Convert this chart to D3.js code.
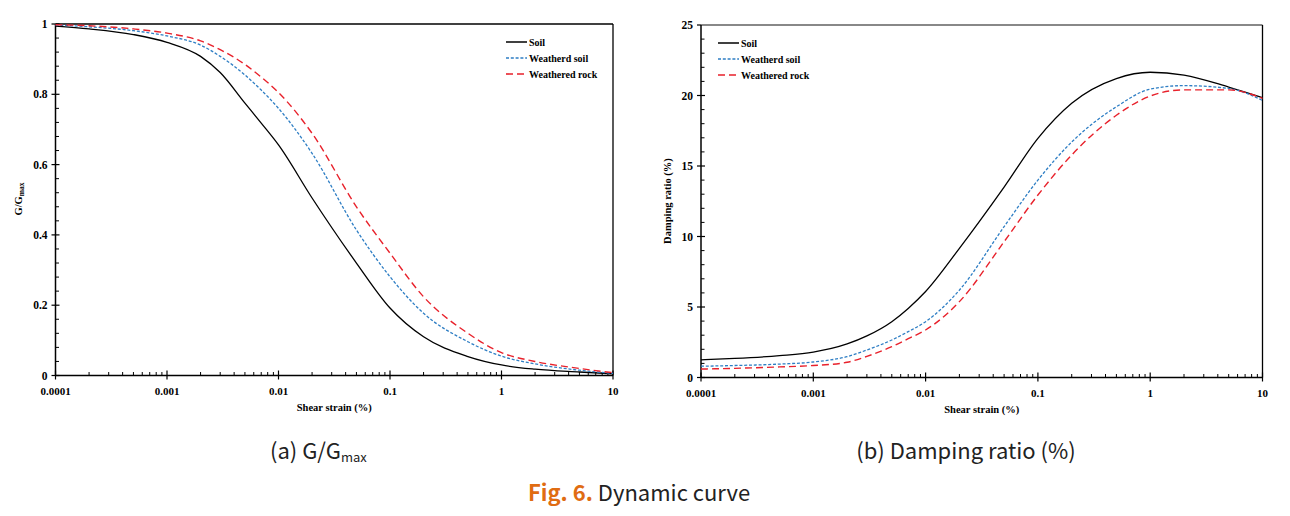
<!DOCTYPE html>
<html><head><meta charset="utf-8">
<script src="https://cdn.jsdelivr.net/npm/d3@7"></script>
<style>body{margin:0;background:#fff}svg{display:block}</style>
</head><body>
<svg id="c" width="1290" height="516"></svg>
<script>
const strain = [0.0001,0.0002,0.0005,0.001,0.002,0.003,0.005,0.007,0.01,0.02,0.05,0.1,0.2,0.5,1,2,5,10];
const gSoil     = [0.994,0.986,0.970,0.948,0.908,0.862,0.775,0.718,0.656,0.505,0.32,0.192,0.110,0.054,0.030,0.018,0.010,0.005];
const gWSoil    = [0.997,0.992,0.981,0.966,0.940,0.908,0.855,0.812,0.760,0.632,0.414,0.281,0.177,0.096,0.055,0.033,0.015,0.006];
const gWRock    = [0.998,0.995,0.986,0.974,0.952,0.927,0.885,0.849,0.805,0.689,0.480,0.348,0.224,0.120,0.065,0.040,0.020,0.008];
const dSoil     = [1.25,1.35,1.55,1.8,2.38,2.95,3.96,4.9,6.1,9.16,13.5,16.96,19.45,21.2,21.65,21.45,20.6,19.85];
const dWSoil    = [0.8,0.85,0.95,1.1,1.48,1.95,2.66,3.25,3.96,6.2,10.7,14.0,16.7,19.2,20.45,20.7,20.5,19.65];
const dWRock    = [0.6,0.65,0.75,0.85,1.08,1.5,2.19,2.75,3.37,5.38,9.63,12.94,15.78,18.6,19.96,20.4,20.4,19.8];
const xTickLabels = ["0.0001","0.001","0.01","0.1","1","10"];
const gTicks = [0,0.2,0.4,0.6,0.8,1];
const gTickLabels = ["0","0.2","0.4","0.6","0.8","1"];
const dTicks = [0,5,10,15,20,25];
const legendNames = ["Soil","Weatherd soil","Weathered rock"];

const svg = d3.select("#c");
const serif = "'Liberation Serif','Times New Roman',serif";
const styles = [
  {stroke:"#000", dash:null, w:1.3},
  {stroke:"#2e7ec4", dash:"3,1.8", w:1.3},
  {stroke:"#e8212b", dash:"7,4", w:1.4}
];

function panel(o){
  const x = d3.scaleLog().domain([0.0001,10]).range(o.xr);
  const y = d3.scaleLinear().domain(o.yd).range(o.yr);
  const g = svg.append("g");
  const minorX = [];
  for(let e=-4;e<1;e++) for(let m=2;m<10;m++) minorX.push(m*Math.pow(10,e));
  g.selectAll(".mx").data(minorX).join("line")
    .attr("x1",d=>x(d)).attr("x2",d=>x(d))
    .attr("y1",o.yr[0]).attr("y2",o.yr[0]-3.5)
    .attr("stroke","#000").attr("stroke-width",1);
  const majX = xTickLabels.map(Number);
  g.selectAll(".Mx").data(majX).join("line")
    .attr("x1",d=>x(d)).attr("x2",d=>x(d))
    .attr("y1",o.yr[0]+4).attr("y2",o.yr[0]-5)
    .attr("stroke","#000").attr("stroke-width",1.2);
  g.selectAll(".xl").data(majX).join("text")
    .attr("x",d=>x(d)).attr("y",o.yr[0]+19)
    .attr("text-anchor","middle").attr("font-family",serif).attr("font-weight","bold")
    .attr("font-size",11).text((d,i)=>xTickLabels[i]);
  const minorY = d3.range(o.yd[0], o.yd[1]+1e-9, o.minor).filter(v=>!o.ticks.some(t=>Math.abs(t-v)<1e-9));
  g.selectAll(".my").data(minorY).join("line")
    .attr("x1",o.xr[0]).attr("x2",o.xr[0]+3.5)
    .attr("y1",d=>y(d)).attr("y2",d=>y(d))
    .attr("stroke","#000").attr("stroke-width",1);
  g.selectAll(".My").data(o.ticks).join("line")
    .attr("x1",o.xr[0]-4).attr("x2",o.xr[0]+4)
    .attr("y1",d=>y(d)).attr("y2",d=>y(d))
    .attr("stroke","#000").attr("stroke-width",1.2);
  g.selectAll(".yl").data(o.ticks).join("text")
    .attr("x",o.xr[0]-8).attr("y",d=>y(d)+4)
    .attr("text-anchor","end").attr("font-family",serif).attr("font-weight","bold")
    .attr("font-size",11.5).text((d,i)=>o.tickLabels[i]);
  g.append("line").attr("x1",o.xr[0]).attr("x2",o.xr[1]).attr("y1",o.yr[1]).attr("y2",o.yr[1])
    .attr("stroke",o.topColor).attr("stroke-width",o.topW);
  g.append("line").attr("x1",o.xr[1]).attr("x2",o.xr[1]).attr("y1",o.yr[1]).attr("y2",o.yr[0])
    .attr("stroke","#000").attr("stroke-width",1.3);
  g.append("line").attr("x1",o.xr[0]).attr("x2",o.xr[0]).attr("y1",o.yr[1]).attr("y2",o.yr[0])
    .attr("stroke","#000").attr("stroke-width",1.5);
  g.append("line").attr("x1",o.xr[0]).attr("x2",o.xr[1]).attr("y1",o.yr[0]).attr("y2",o.yr[0])
    .attr("stroke","#000").attr("stroke-width",1.5);
  const line = d3.line().x((d,i)=>x(strain[i])).y(d=>y(d)).curve(d3.curveMonotoneX);
  o.series.forEach((s,i)=>{
    g.append("path").attr("d",line(s)).attr("fill","none")
      .attr("stroke",styles[i].stroke).attr("stroke-width",styles[i].w)
      .attr("stroke-dasharray",styles[i].dash);
  });
  legendNames.forEach((n,i)=>{
    const ly = o.leg[1] + i*16;
    g.append("line").attr("x1",o.leg[0]).attr("x2",o.leg[0]+21).attr("y1",ly).attr("y2",ly)
      .attr("stroke",styles[i].stroke).attr("stroke-width",styles[i].w+0.2)
      .attr("stroke-dasharray",styles[i].dash);
    g.append("text").attr("x",o.leg[0]+23).attr("y",ly+3.5)
      .attr("font-family",serif).attr("font-weight","bold").attr("font-size",10).text(n);
  });
  g.append("text").attr("x",(o.xr[0]+o.xr[1])/2).attr("y",o.yr[0]+35)
    .attr("text-anchor","middle").attr("font-family",serif).attr("font-weight","bold")
    .attr("font-size",10.5).text("Shear strain (%)");
  const yt = g.append("text").attr("transform",`translate(${o.ylab[0]},${o.ylab[1]}) rotate(-90)`)
    .attr("text-anchor","middle").attr("font-family",serif).attr("font-weight","bold")
    .attr("font-size",10.5);
  o.ytitle(yt);
}

panel({xr:[55.5,613], yr:[375.5,24], yd:[0,1], ticks:gTicks, tickLabels:gTickLabels, minor:0.04,
  series:[gSoil,gWSoil,gWRock], leg:[506,42], topColor:"#000", topW:1.5, ylab:[22,199],
  ytitle:t=>{t.append("tspan").text("G/G");t.append("tspan").attr("font-size",7.5).attr("dy",2).text("max");}});
panel({xr:[701,1262.5], yr:[377.5,25], yd:[0,25], ticks:dTicks, tickLabels:dTicks.map(String), minor:1,
  series:[dSoil,dWSoil,dWRock], leg:[718,43], topColor:"#888", topW:2.2, ylab:[671,201],
  ytitle:t=>t.text("Damping ratio (%)")});

const sans = "'Noto Sans CJK KR','Noto Sans',sans-serif";
const c1 = svg.append("text").attr("x",270).attr("y",459).attr("font-family",sans).attr("font-size",22).attr("fill","#222");
c1.append("tspan").text("(a) G/G");
c1.append("tspan").attr("font-size",13).attr("dy",3).text("max");
svg.append("text").attr("x",966).attr("y",459).attr("text-anchor","middle").attr("font-family",sans)
  .attr("font-size",22).attr("fill","#222").text("(b) Damping ratio (%)");
const c3 = svg.append("text").attr("x",639).attr("y",501).attr("text-anchor","middle").attr("font-family",sans).attr("font-size",22);
c3.append("tspan").attr("fill","#e06c12").attr("font-weight","bold").text("Fig. 6.");
c3.append("tspan").attr("fill","#222").text(" Dynamic curve");
</script>
</body></html>
